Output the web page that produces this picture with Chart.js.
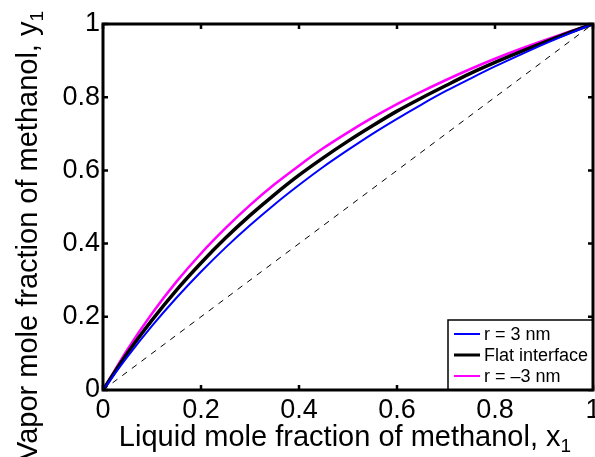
<!DOCTYPE html>
<html>
<head>
<meta charset="utf-8">
<script src="https://cdn.jsdelivr.net/npm/chart.js@4"></script>
<style>
  body { margin: 0; background: #fff; }
  #wrap { width: 595px; height: 457px; position: relative; }
</style>
</head>
<body>
<div id="wrap"><canvas id="chart"></canvas></div>
<script>
// Liquid mole fraction (x axis)
const xLiquid = [0, 0.05, 0.1, 0.15, 0.2, 0.25, 0.3, 0.35, 0.4, 0.45, 0.5,
  0.55, 0.6, 0.65, 0.7, 0.75, 0.8, 0.85, 0.9, 0.95, 1];

// Vapor mole fraction, r = 3 nm (blue)
const yPos3 = [0, 0.091, 0.175, 0.252, 0.323, 0.389, 0.450, 0.507, 0.560, 0.610, 0.656,
  0.700, 0.741, 0.780, 0.817, 0.851, 0.884, 0.915, 0.945, 0.973, 1];

// Vapor mole fraction, flat interface (black)
const yFlat = [0, 0.101, 0.191, 0.273, 0.347, 0.415, 0.477, 0.534, 0.587, 0.635, 0.680,
  0.722, 0.762, 0.798, 0.832, 0.865, 0.895, 0.923, 0.950, 0.976, 1];

// Vapor mole fraction, r = -3 nm (magenta)
const yNeg3 = [0, 0.111, 0.209, 0.296, 0.373, 0.442, 0.505, 0.562, 0.613, 0.661, 0.704,
  0.744, 0.781, 0.815, 0.847, 0.877, 0.905, 0.931, 0.955, 0.978, 1];

// x = y reference line
const diagX = [0, 1];
const diagY = [0, 1];

const axisTicks = [0, 0.2, 0.4, 0.6, 0.8, 1];

const FONT = '"Liberation Sans", Arial, Helvetica, sans-serif';

function toPoints(xs, ys) {
  return xs.map(function (x, i) { return { x: x, y: ys[i] }; });
}

// Frame, inside tick marks, titles and legend
const framePlugin = {
  id: "frame",
  afterDatasetsDraw(chart) {
    const ctx = chart.ctx;
    const a = chart.chartArea;
    const xs = chart.scales.x;
    const ys = chart.scales.y;
    ctx.save();
    ctx.strokeStyle = "#000";

    // inward ticks on all four sides
    ctx.lineWidth = 2.5;
    const tl = 5;
    axisTicks.forEach(function (v) {
      const px = xs.getPixelForValue(v);
      const py = ys.getPixelForValue(v);
      ctx.beginPath();
      ctx.moveTo(px, a.bottom); ctx.lineTo(px, a.bottom - tl);
      ctx.moveTo(px, a.top); ctx.lineTo(px, a.top + tl);
      ctx.moveTo(a.left, py); ctx.lineTo(a.left + tl, py);
      ctx.moveTo(a.right, py); ctx.lineTo(a.right - tl, py);
      ctx.stroke();
    });

    // legend box
    const bx = 448, by = 320, bw = a.right - 448, bh = a.bottom - 320;
    ctx.fillStyle = "#fff";
    ctx.fillRect(bx, by, bw, bh);
    ctx.lineWidth = 1.5;
    ctx.strokeRect(bx, by, bw, bh);
    ctx.font = "18px " + FONT;
    ctx.textBaseline = "middle";
    ctx.textAlign = "left";
    ctx.fillStyle = "#000";
    const rows = [334, 355, 376];
    chart.data.datasets.filter(function (d) { return d.label; }).forEach(function (d, i) {
      ctx.strokeStyle = d.borderColor;
      ctx.lineWidth = d.legendWidth;
      ctx.beginPath();
      ctx.moveTo(454, rows[i]);
      ctx.lineTo(480, rows[i]);
      ctx.stroke();
      ctx.fillText(d.label, 484, rows[i] + 1);
    });

    // plot frame
    ctx.strokeStyle = "#000";
    ctx.lineWidth = 3;
    ctx.strokeRect(a.left, a.top, a.right - a.left, a.bottom - a.top);

    // axis titles with subscripts
    function subTitle(text, sub, cx, baseY) {
      ctx.font = "29px " + FONT;
      const w1 = ctx.measureText(text).width;
      ctx.font = "19px " + FONT;
      const w2 = ctx.measureText(sub).width;
      const start = cx - (w1 + w2) / 2;
      ctx.textAlign = "left";
      ctx.textBaseline = "alphabetic";
      ctx.fillStyle = "#000";
      ctx.font = "29px " + FONT;
      ctx.fillText(text, start, baseY);
      ctx.font = "19px " + FONT;
      ctx.fillText(sub, start + w1, baseY + 6);
    }
    subTitle("Liquid mole fraction of methanol, x", "1", 345, 446);
    ctx.translate(37, 236);
    ctx.rotate(-Math.PI / 2);
    subTitle("Vapor mole fraction of methanol, y", "1", 0, 0);
    ctx.restore();
  }
};

const myChart = new Chart(document.getElementById("chart"), {
  type: "line",
  data: {
    datasets: [
      {
        data: toPoints(diagX, diagY),
        borderColor: "#000",
        borderWidth: 1,
        borderDash: [6, 6],
      },
      {
        label: "r = 3 nm",
        data: toPoints(xLiquid, yPos3),
        borderColor: "#0000ff",
        borderWidth: 2,
        legendWidth: 2,
      },
      {
        label: "Flat interface",
        data: toPoints(xLiquid, yFlat),
        borderColor: "#000",
        borderWidth: 3.5,
        legendWidth: 3,
      },
      {
        label: "r = \u20133 nm",
        data: toPoints(xLiquid, yNeg3),
        borderColor: "#ff00ff",
        borderWidth: 2.5,
        legendWidth: 2,
      },
    ],
  },
  options: {
    responsive: true,
    maintainAspectRatio: false,
    animation: false,
    devicePixelRatio: 1,
    layout: { padding: { top: 24, right: 2, left: 0, bottom: 0 } },
    elements: {
      point: { radius: 0 },
      line: { cubicInterpolationMode: "monotone" },
    },
    plugins: {
      legend: { display: false },
      tooltip: { enabled: false },
    },
    scales: {
      x: {
        type: "linear",
        min: 0,
        max: 1,
        grid: { display: false, drawTicks: false },
        border: { display: false },
        ticks: {
          stepSize: 0.2,
          padding: 4,
          color: "#000",
          maxRotation: 0,
          font: { family: FONT, size: 27 },
          callback: function (v) { return String(+v.toFixed(1)); },
        },
        afterFit: function (scale) {
          scale.height = 67;
          scale.paddingLeft = 0;
          scale.paddingRight = 0;
        },
      },
      y: {
        type: "linear",
        min: 0,
        max: 1,
        grid: { display: false, drawTicks: false },
        border: { display: false },
        ticks: {
          stepSize: 0.2,
          padding: 3,
          color: "#000",
          font: { family: FONT, size: 27 },
          callback: function (v) { return String(+v.toFixed(1)); },
        },
        afterFit: function (scale) {
          scale.width = 103;
          scale.paddingTop = 0;
          scale.paddingBottom = 0;
        },
      },
    },
  },
  plugins: [framePlugin],
});
</script>
</body>
</html>
